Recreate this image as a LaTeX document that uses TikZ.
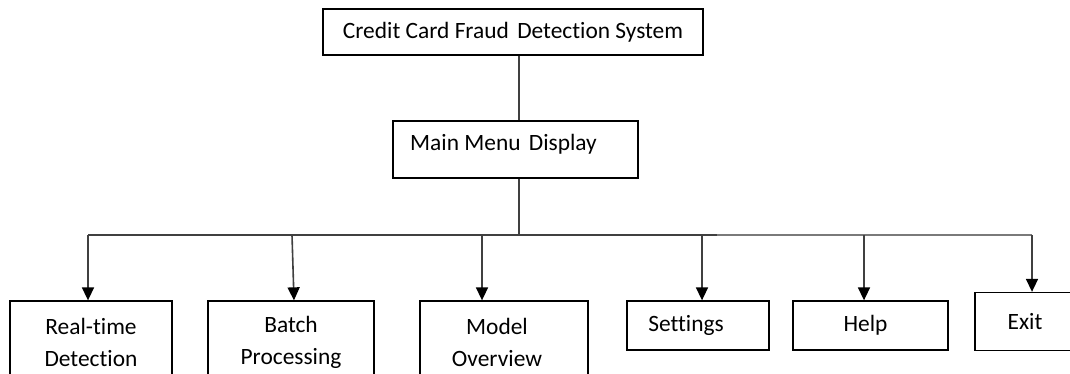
\documentclass[tikz,border=0pt]{standalone}
\usepackage{fontspec}
\setmainfont{Carlito}[Ligatures={NoCommon}]
\usetikzlibrary{arrows.meta,calc}
\definecolor{wire}{HTML}{404040}
\definecolor{wirelight}{HTML}{7A7A7A}
\newcommand{\labelfont}{\fontsize{23.4}{32}\selectfont}
\tikzset{
  box/.style={draw=black, line width=1.3pt, fill=white, inner sep=0pt,
    font=\labelfont, align=center},
  wireline/.style={draw=wire, line width=1.6pt},
  arrowline/.style={wireline, -{Triangle[width=12pt,length=13pt]}, arrows={[fill=black,color=black]}},
}
\begin{document}
\begin{tikzpicture}[x=1pt,y=-1pt]
  \useasboundingbox (0,0) rectangle (1070,374);
  \clip (0,0) rectangle (1070,374);
  \fill[white] (0,0) rectangle (1070,374);

  % top level and menu
  \node[box, minimum width=380pt, minimum height=46pt] (sys) at (513,32)
    {Credit Card Fraud\hspace{3pt} Detection System};
  \node[box, minimum width=245pt, minimum height=57pt] (menu) at (515.5,149.5) {};
  \node[anchor=west, inner sep=0pt, font=\labelfont]
    (menutext) at (410,144) {Main Menu\hspace{3pt} Display};

  % branch points on the bus
  \coordinate (jx) at (519,235);
  \coordinate (brt) at (88,235);
  \coordinate (bbatch) at (292,235);
  \coordinate (bmodel) at (482,235);
  \coordinate (bset) at (702,235);
  \coordinate (bhelp) at (864,235);
  \coordinate (bexit) at (1032,235);
  \coordinate (bfade) at (717,235);

  % option boxes
  \node[box, minimum width=162pt, minimum height=82pt] (rt) at (91,342)
    {Real-time\\Detection};
  \node[box, minimum width=166pt, minimum height=82pt] (batch) at (291,342)
    {Batch\\Processing};
  \node[box, minimum width=168pt, minimum height=82pt] (model) at (504,342)
    {\hspace*{-14pt}Model\\\hspace*{-14pt}Overview};
  \node[box, minimum width=142pt, minimum height=49pt] (set) at (698,325.5)
    {\hspace*{-24pt}Settings};
  \node[box, minimum width=155pt, minimum height=49pt] (help) at (870.5,325.5)
    {\hspace*{-10pt}Help};
  \node[box, minimum width=100pt, minimum height=58pt] (exit) at (1025,321.5)
    {Exit};

  % trunk
  \draw[wireline] (sys.south -| jx) -- (menu.north -| jx);
  \draw[wireline] (menu.south -| jx) -- (jx);

  % bus
  \draw[wireline] (brt) -- (bfade);
  \draw[wireline, draw=wirelight] (bfade) -- (bexit);

  % arrows down to options
  \draw[arrowline] (brt) -- (rt.north -| brt);
  \draw[arrowline] (bbatch) -- ($(batch.north -| bbatch)+(2,0)$);
  \draw[arrowline] (bmodel) -- (model.north -| bmodel);
  \draw[arrowline] (bset) -- (set.north -| bset);
  \draw[arrowline] (bhelp) -- (help.north -| bhelp);
  \draw[arrowline] (bexit) -- (exit.north -| bexit);
\end{tikzpicture}
\end{document}
